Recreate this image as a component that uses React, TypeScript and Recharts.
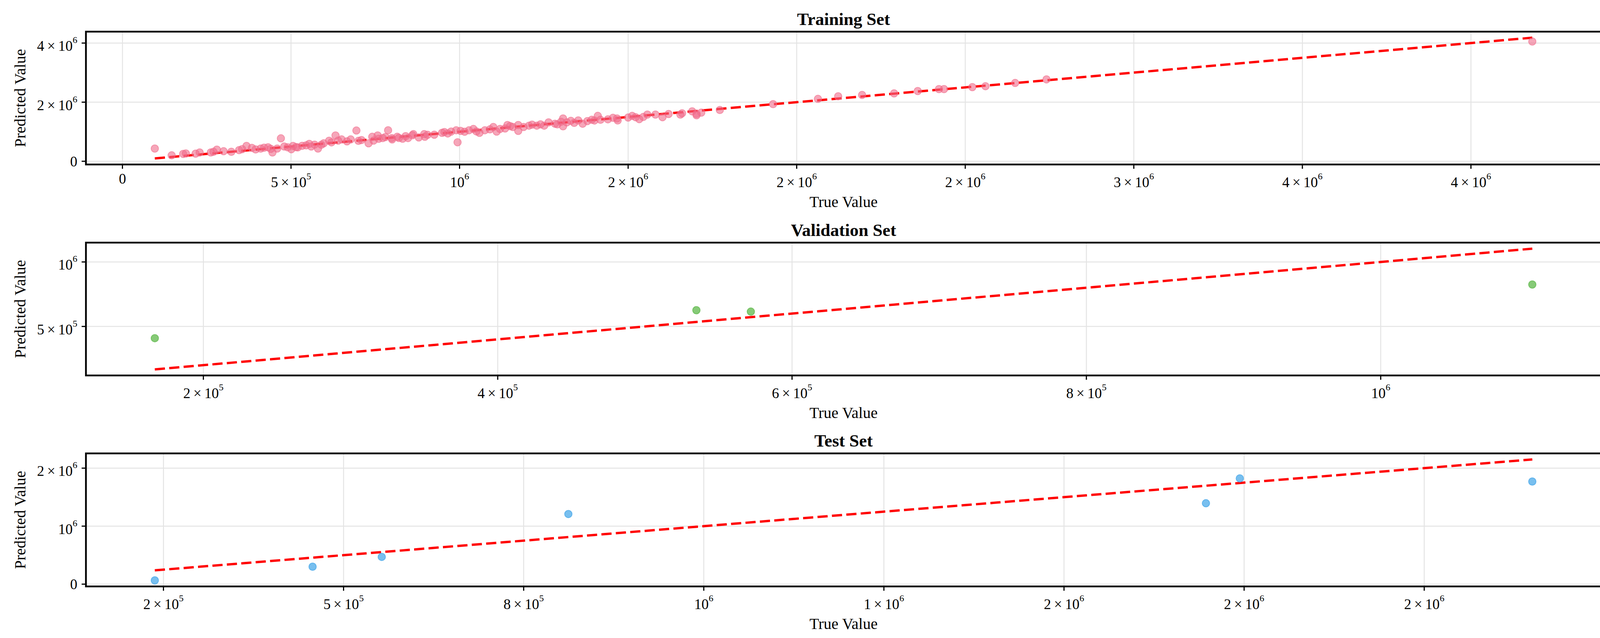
import React from 'react';
import {
  ScatterChart,
  Scatter,
  XAxis,
  YAxis,
  CartesianGrid,
  ReferenceLine,
  ReferenceArea,
} from 'recharts';

const FONT = '"Liberation Serif", "Times New Roman", serif';

// Training set (true value / predicted value)
const trainTrue = [
  96000, 146000, 180000, 188000, 217000, 229000, 262000, 280000, 270000, 323000,
  346000, 368000, 384000, 395000, 410000, 432000, 445000, 459000, 420000, 470000,
  490000, 506000, 501000, 520000, 533000, 554000, 570000, 580000, 545000, 560000,
  597000, 613000, 632000, 650000, 666000, 677000, 620000, 694000, 709000, 730000,
  741000, 757000, 772000, 788000, 799000, 815000, 831000, 847000, 863000, 879000,
  895000, 760000, 800000, 840000, 905000, 897000, 948000, 975000, 990000, 1003000,
  994000, 1028000, 1041000, 1059000, 1075000, 1100000, 1110000, 1120000, 1142000, 1158000,
  1174000, 1174000, 1206000, 1229000, 1251000, 1264000, 1283000, 1301000, 1307000, 1318000,
  1307000, 1352000, 1365000, 1379000, 1392000, 1410000, 1418000, 1467000, 1469000, 1512000,
  1522000, 1533000, 1557000, 1581000, 1602000, 1655000, 1660000, 1690000, 1703000, 1703000,
  1717000, 1772000, 1930000, 2063000, 2123000, 2194000, 2289000, 2359000, 2422000, 2437000,
  2521000, 2560000, 2648000, 2741000, 4182000,
  955000, 1015000, 1090000, 1135000, 1190000, 1240000, 1340000, 1440000, 1500000,
  300000, 355000, 440000, 480000, 515000, 590000, 640000, 700000, 745000, 780000,
  820000, 860000, 925000, 965000, 1050000, 1150000, 1215000, 1290000, 1330000, 1400000,
  1455000, 1545000, 1620000,
];
const trainPred = [
  431000, 201000, 250000, 265000, 259000, 298000, 298000, 395000, 320000, 321000,
  378000, 520000, 453000, 400000, 431000, 475000, 298000, 431000, 460000, 776000,
  475000, 520000, 408000, 470000, 524000, 590000, 564000, 431000, 540000, 500000,
  608000, 696000, 873000, 740000, 674000, 740000, 640000, 1041000, 719000, 608000,
  829000, 873000, 785000, 1050000, 785000, 829000, 763000, 785000, 918000, 806000,
  918000, 760000, 740000, 850000, 895000, 829000, 962000, 1005000, 1050000, 1028000,
  643000, 1050000, 1094000, 962000, 1050000, 1160000, 1005000, 1094000, 1227000, 1160000,
  1227000, 1028000, 1205000, 1205000, 1205000, 1316000, 1271000, 1337000, 1448000, 1316000,
  1183000, 1382000, 1271000, 1360000, 1404000, 1536000, 1404000, 1448000, 1382000, 1536000,
  1492000, 1426000, 1581000, 1581000, 1492000, 1581000, 1625000, 1691000, 1602000, 1558000,
  1647000, 1735000, 1934000, 2111000, 2199000, 2244000, 2297000, 2377000, 2443000, 2443000,
  2509000, 2540000, 2650000, 2771000, 4052000,
  990000, 1000000, 1080000, 1110000, 1160000, 1250000, 1300000, 1420000, 1480000,
  340000, 410000, 420000, 500000, 480000, 560000, 700000, 690000, 700000, 820000,
  790000, 880000, 900000, 940000, 1010000, 1190000, 1240000, 1250000, 1370000, 1380000,
  1470000, 1500000, 1600000,
];

// Validation set
const valTrue = [167000, 535000, 572000, 1103000];
const valPred = [409000, 626000, 615000, 825000];

// Test set
const testTrue = [238000, 457000, 553000, 812000, 1697000, 1744000, 2150000];
const testPred = [65000, 301000, 470000, 1209000, 1395000, 1824000, 1769000];

// Tick values and the labels printed for them
const trainXTicks = [0, 500000, 1000000, 1500000, 2000000, 2500000, 3000000, 3500000, 4000000];
const trainXLabels = ['0', '5×10^5', '10^6', '2×10^6', '2×10^6', '2×10^6', '3×10^6', '4×10^6', '4×10^6'];
const trainYTicks = [0, 2000000, 4000000];
const trainYLabels = ['0', '2×10^6', '4×10^6'];

const valXTicks = [200000, 400000, 600000, 800000, 1000000];
const valXLabels = ['2×10^5', '4×10^5', '6×10^5', '8×10^5', '10^6'];
const valYTicks = [500000, 1000000];
const valYLabels = ['5×10^5', '10^6'];

const testXTicks = [250000, 500000, 750000, 1000000, 1250000, 1500000, 1750000, 2000000];
const testXLabels = ['2×10^5', '5×10^5', '8×10^5', '10^6', '1×10^6', '2×10^6', '2×10^6', '2×10^6'];
const testYTicks = [0, 1000000, 2000000];
const testYLabels = ['0', '10^6', '2×10^6'];

const TICK_SIZE = 11;

function SciTick(props: any) {
  const { x, y, payload, ticks, labels, axis } = props;
  const i = ticks.indexOf(payload.value);
  const label: string = i >= 0 ? labels[i] : String(payload.value);
  const [base, sup] = label.split('^');
  const text = base.replace('×', '\u2009×\u2009');
  const common = { fontFamily: FONT, fontSize: 37, fill: '#000' };
  if (axis === 'x') {
    return (
      <text x={x} y={y + (sup ? 46.5 : 37.5)} textAnchor="middle" {...common}>
        {text}
        {sup && <tspan dy={-20} fontSize={24}>{sup}</tspan>}
      </text>
    );
  }
  return (
    <text x={x - 11} y={y + (sup ? 20 : 13)} textAnchor="end" {...common}>
      {text}
      {sup && <tspan dy={-20} fontSize={24}>{sup}</tspan>}
    </text>
  );
}

function XTitle({ viewBox }: any) {
  return (
    <text x={viewBox.x + viewBox.width / 2} y={viewBox.y + 109} textAnchor="middle"
      fontFamily={FONT} fontSize={40} fill="#000">True Value</text>
  );
}

function YTitle({ viewBox }: any) {
  const cx = 65;
  const cy = viewBox.y + viewBox.height / 2;
  return (
    <text x={cx} y={cy} transform={`rotate(-90, ${cx}, ${cy})`} textAnchor="middle"
      fontFamily={FONT} fontSize={40} fill="#000">Predicted Value</text>
  );
}

// matplotlib-like 5% margins
function pad(lo: number, hi: number): [number, number] {
  const m = (hi - lo) * 0.05;
  return [lo - m, hi + m];
}

interface PanelProps {
  trueVals: number[];
  predVals: number[];
  color: string;
  opacity: number;
  xTicks: number[];
  xLabels: string[];
  yTicks: number[];
  yLabels: string[];
  height: number;
  top: number;
}

function Panel({ trueVals, predVals, color, opacity, xTicks, xLabels, yTicks, yLabels, height, top }: PanelProps) {
  const data = trueVals.map((t, i) => ({ x: t, y: predVals[i] }));
  const lo = Math.min(...trueVals);
  const hi = Math.max(...trueVals);
  const xDomain = pad(lo, hi);
  const yDomain = pad(Math.min(lo, ...predVals), Math.max(hi, ...predVals));

  const dot = (p: any) => (
    <circle cx={p.cx} cy={p.cy} r={9.5} fill={color} fillOpacity={opacity}
      stroke={color} strokeOpacity={opacity} strokeWidth={2} />
  );

  return (
    <ScatterChart width={4120} height={height} margin={{ top, right: 21, bottom: 0, left: 0 }}>
      <CartesianGrid stroke="#e4e4e4" strokeWidth={2.5} />
      <XAxis
        type="number"
        dataKey="x"
        domain={xDomain}
        allowDataOverflow
        ticks={xTicks}
        interval={0}
        height={119}
        axisLine={false}
        tickLine={{ stroke: '#000', strokeWidth: 3 }}
        tickSize={TICK_SIZE}
        tickMargin={0}
        tick={<SciTick axis="x" ticks={xTicks} labels={xLabels} />}
        label={<XTitle />}
      />
      <YAxis
        type="number"
        dataKey="y"
        domain={yDomain}
        allowDataOverflow
        ticks={yTicks}
        interval={0}
        width={220}
        axisLine={false}
        tickLine={{ stroke: '#000', strokeWidth: 3 }}
        tickSize={TICK_SIZE}
        tickMargin={0}
        tick={<SciTick axis="y" ticks={yTicks} labels={yLabels} />}
        label={<YTitle />}
      />
      <Scatter data={data} shape={dot} isAnimationActive={false} />
      <ReferenceLine
        segment={[{ x: lo, y: lo }, { x: hi, y: hi }]}
        stroke="#ff0000"
        strokeWidth={6}
        strokeDasharray="26 11"
      />
      <ReferenceArea
        x1={xDomain[0]}
        x2={xDomain[1]}
        y1={yDomain[0]}
        y2={yDomain[1]}
        fill="none"
        fillOpacity={0}
        stroke="#000"
        strokeWidth={4.5}
      />
    </ScatterChart>
  );
}

const titles = [
  { text: 'Training Set', y: 64 },
  { text: 'Validation Set', y: 604 },
  { text: 'Test Set', y: 1143 },
];

export default function App() {
  return (
    <div style={{ position: 'absolute', left: 0, top: 0, width: 4120, height: 1633, background: '#fff' }}>
      <div style={{ position: 'absolute', left: 0, top: 0 }}>
        <Panel trueVals={trainTrue} predVals={trainPred} color="#f06b8a" opacity={0.6}
          xTicks={trainXTicks} xLabels={trainXLabels} yTicks={trainYTicks} yLabels={trainYLabels}
          height={540} top={81} />
      </div>
      <div style={{ position: 'absolute', left: 0, top: 540 }}>
        <Panel trueVals={valTrue} predVals={valPred} color="#5db84a" opacity={0.75}
          xTicks={valXTicks} xLabels={valXLabels} yTicks={valYTicks} yLabels={valYLabels}
          height={540} top={81} />
      </div>
      <div style={{ position: 'absolute', left: 0, top: 1080 }}>
        <Panel trueVals={testTrue} predVals={testPred} color="#3fa4e8" opacity={0.7}
          xTicks={testXTicks} xLabels={testXLabels} yTicks={testYTicks} yLabels={testYLabels}
          height={540} top={80.5} />
      </div>
      <svg width={4120} height={1633} style={{ position: 'absolute', left: 0, top: 0, pointerEvents: 'none' }}>
        {titles.map((t) => (
          <text key={t.text} x={2159.5} y={t.y} textAnchor="middle" fontFamily={FONT}
            fontSize={45} fontWeight="bold" fill="#000">{t.text}</text>
        ))}
      </svg>
    </div>
  );
}
